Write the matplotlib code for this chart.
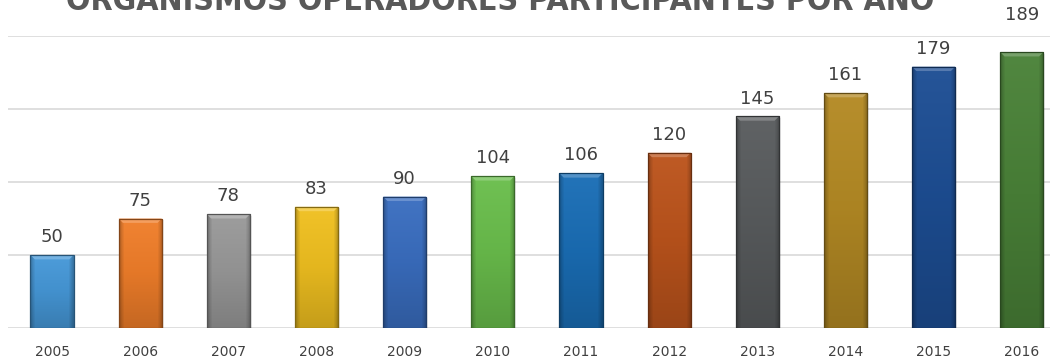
import numpy as np
import matplotlib
matplotlib.use("Agg")
import matplotlib.pyplot as plt
from matplotlib.colors import LinearSegmentedColormap, to_rgb
from matplotlib.patches import Polygon

years = ["2005", "2006", "2007", "2008", "2009", "2010",
         "2011", "2012", "2013", "2014", "2015", "2016"]
organismos = [50, 75, 78, 83, 90, 104, 106, 120, 145, 161, 179, 189]
bar_colors = ["#4698d8", "#f07e2a", "#999999", "#f0c020", "#3a6ec0", "#6abe4c",
              "#1a6eb6", "#bc541c", "#595c5e", "#b48a24", "#1d4e94", "#4a8238"]

title = "ORGANISMOS OPERADORES PARTICIPANTES POR AÑO"

fig = plt.figure(figsize=(10.58, 3.6), dpi=100)
ax = fig.add_axes([8 / 1058, 1 - 328 / 360, 1042 / 1058, (328 - 36) / 360])

x = np.arange(len(years))
width = 0.49
bars = ax.bar(x, organismos, width=width, color=bar_colors, zorder=2)


def shade(c, f):
    r = np.array(to_rgb(c))
    if f >= 1:
        return tuple(np.clip(r + (1 - r) * (f - 1), 0, 1))
    return tuple(r * f)


# mild vertical gradient inside each bar with darker sides and a bevelled top
for rect, c in zip(bars, bar_colors):
    x0, w, h = rect.get_x(), rect.get_width(), rect.get_height()
    rect.set_facecolor("none")
    rect.set_edgecolor(shade(c, 0.55))
    rect.set_linewidth(0.9)
    rect.set_zorder(4)
    cmap = LinearSegmentedColormap.from_list(
        "g", [shade(c, 0.82), shade(c, 0.95), shade(c, 1.04)])
    grad = np.linspace(0, 1, 256).reshape(-1, 1)
    grad = np.hstack([grad] * 20)
    side = np.ones(20)
    side[:2] = [0.78, 0.9]
    side[-2:] = [0.9, 0.78]
    rgb = np.clip(cmap(grad)[:, :, :3] * side[None, :, None], 0, 1)
    im = ax.imshow(rgb, extent=[x0, x0 + w, 0, h], origin="lower",
                   aspect="auto", zorder=3, interpolation="bilinear")
    im.set_clip_path(rect)
    bev = 3.0
    ax.add_patch(Polygon([[x0, h], [x0 + w, h], [x0 + w * 0.9, h - bev],
                          [x0 + w * 0.1, h - bev]], closed=True,
                         facecolor=shade(c, 1.25), edgecolor="none", zorder=3.5))
    # soft shadow at the right edge
    ax.fill_between([x0 + w, x0 + w * 1.04], 0, h - 1, color="#000000",
                    alpha=0.08, zorder=1.5, linewidth=0)

label_offset = [6] * len(organismos)
label_offset[-1] = 19
for xi, v, off in zip(x, organismos, label_offset):
    ax.text(xi, v + off, str(v), ha="center", va="bottom", fontsize=13,
            color="#404040", clip_on=False)

ax.set_xlim(-0.5, 11.32)
ax.set_ylim(0, 200)
ax.set_yticks([0, 50, 100, 150, 200])
ax.yaxis.grid(True, color="#d9d9d9", linewidth=1.2, zorder=0)
ax.set_axisbelow(True)
ax.tick_params(axis="y", left=False, labelleft=False)
ax.tick_params(axis="x", bottom=False, pad=9, labelsize=10, labelcolor="#404040")
ax.set_xticks(x)
ax.set_xticklabels(years)
for s in ax.spines.values():
    s.set_visible(False)

fig.text(500 / 1058, 1 - 1 / 360, title, ha="center", va="center",
         fontsize=23, fontweight="bold", fontstretch="condensed", color="#595959",
         family=["DejaVu Sans"])

fig.savefig("out.png", dpi=100)
